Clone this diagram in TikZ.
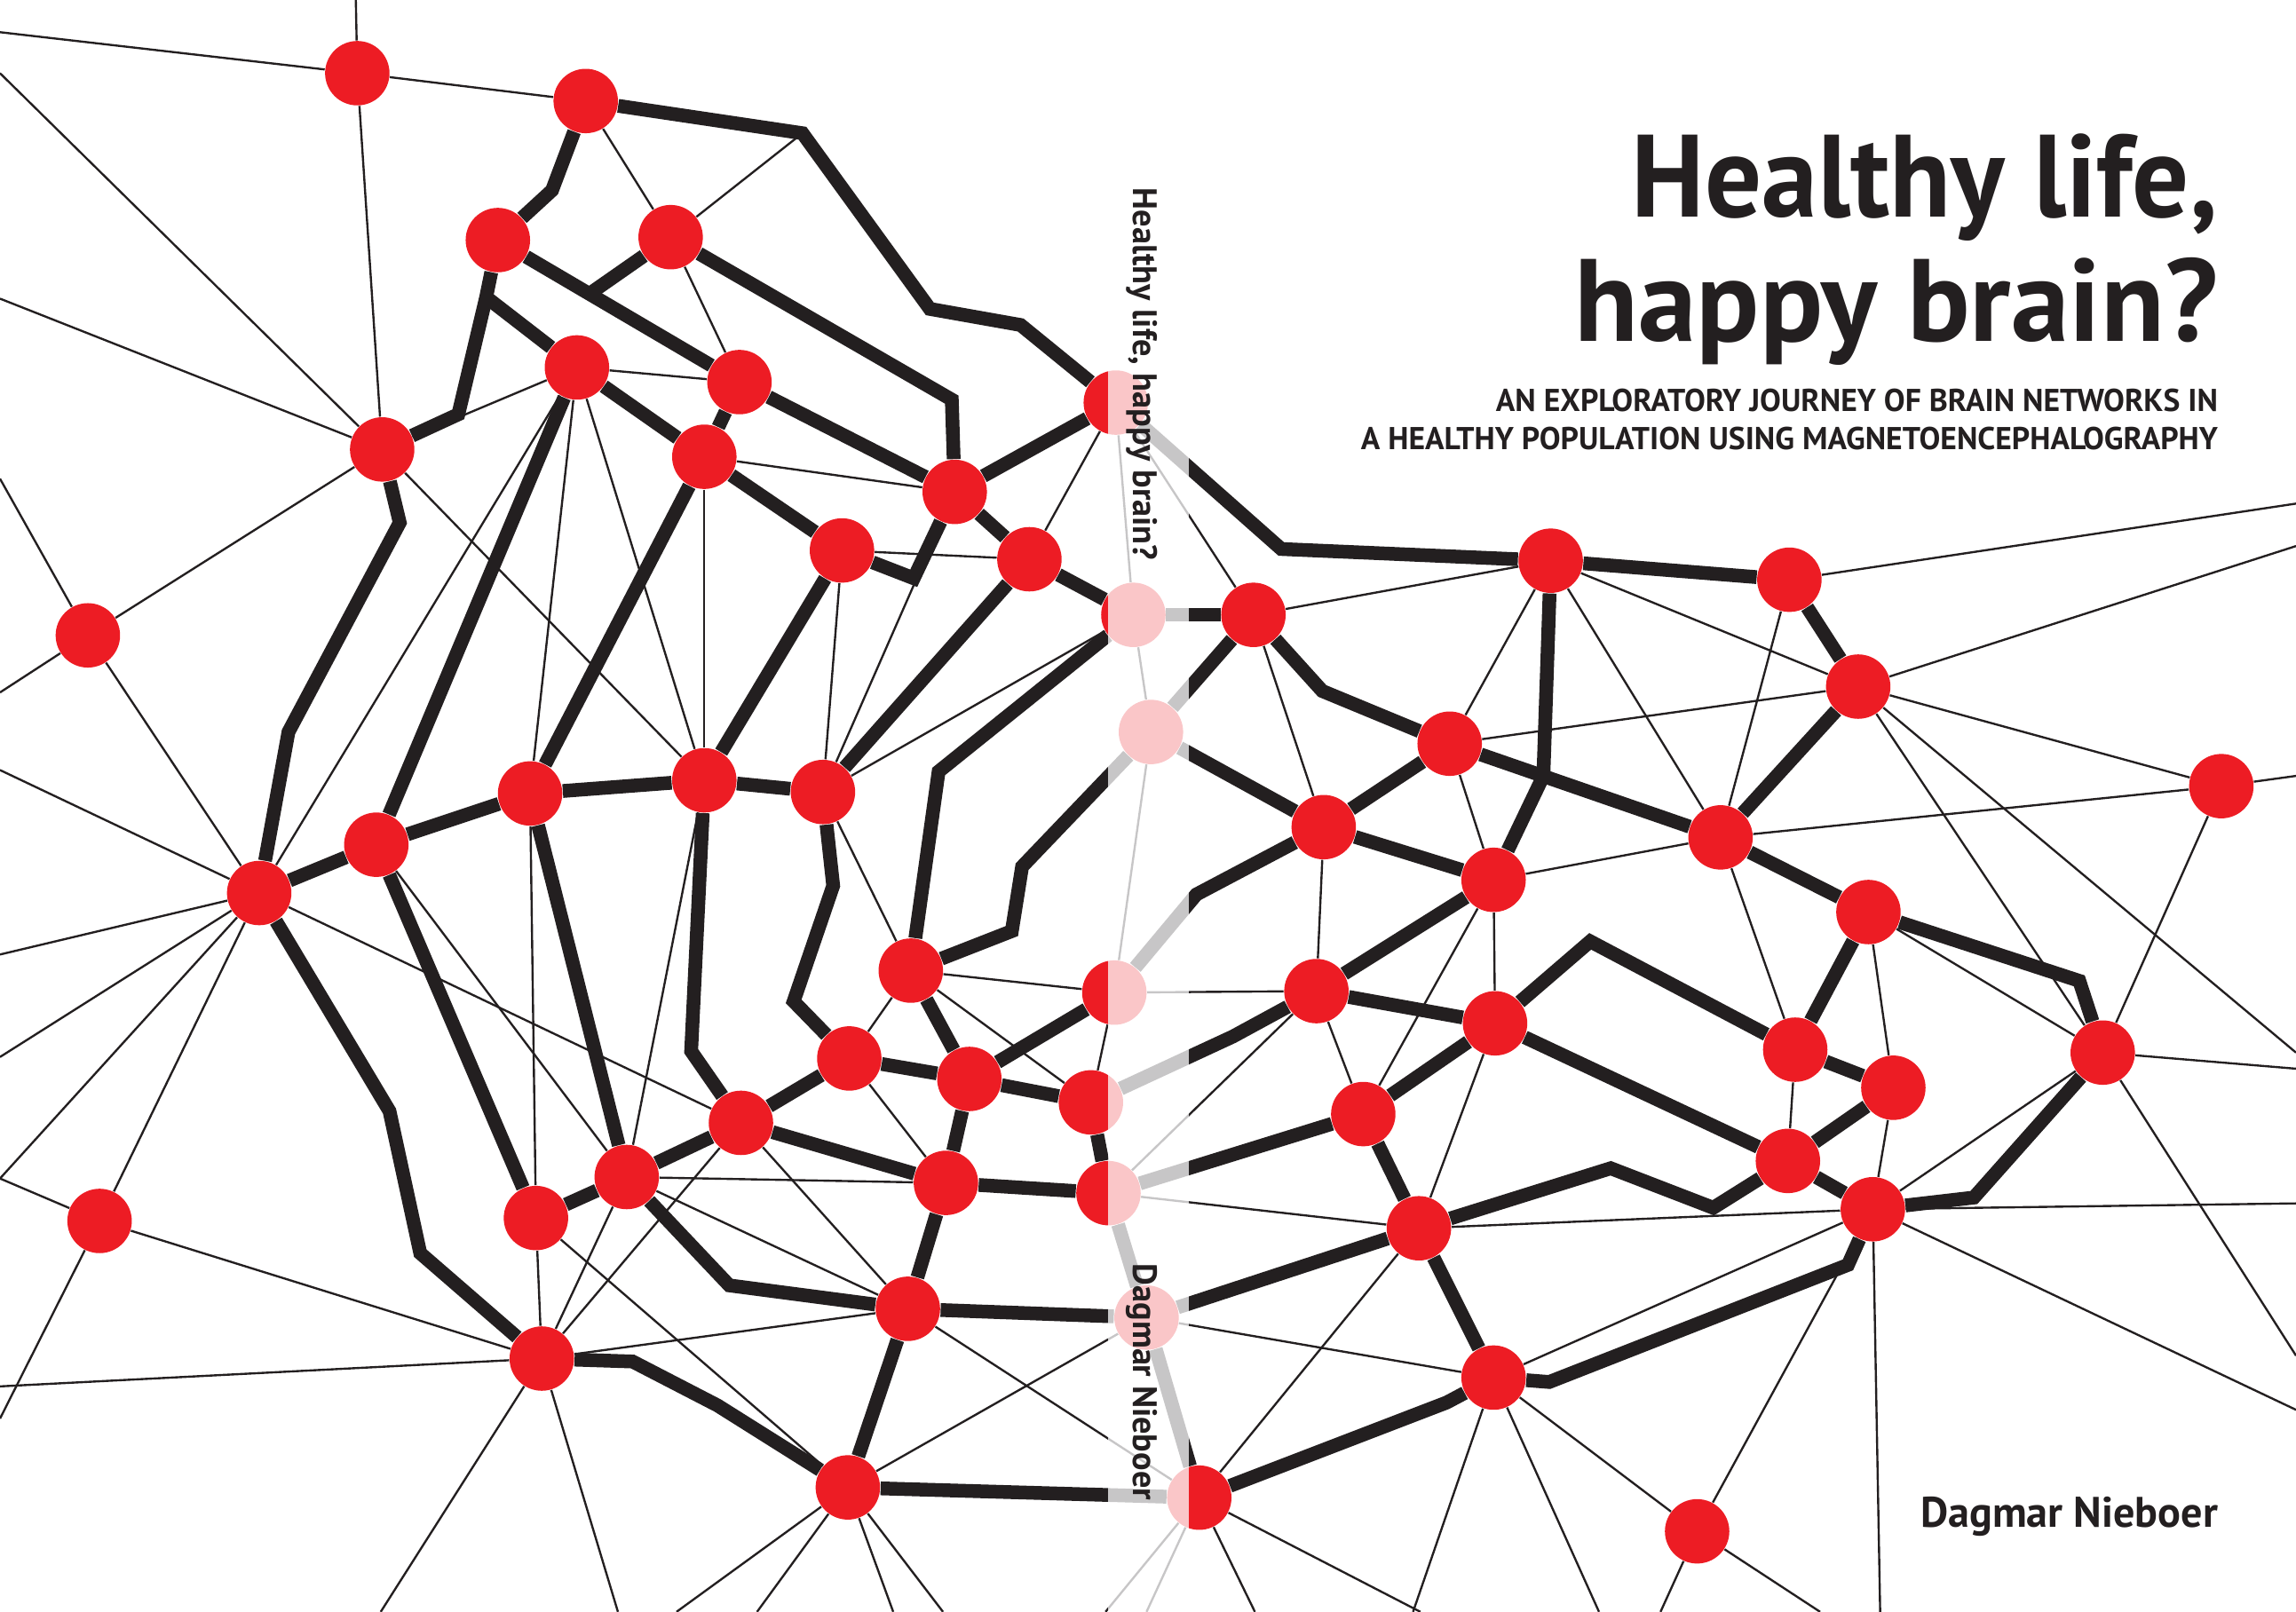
\documentclass[tikz,border=0pt]{standalone}
\usepackage{fontspec}
\setmainfont{PT Sans}
\definecolor{nred}{HTML}{ED1C24}
\definecolor{ndark}{HTML}{231F20}
\pgfdeclarelayer{edges}
\pgfdeclarelayer{veil}
\pgfsetlayers{edges,main,veil}
\tikzset{
  nd/.style={circle, fill=nred, minimum size=22pt, inner sep=0pt, draw=none},
  thn/.style={draw=ndark, line width=0.72pt},
  thk/.style={draw=ndark, line width=4.7pt, line join=miter},
  ttl/.style={font=\bfseries\fontsize{40}{40}\selectfont, text=ndark, inner sep=0pt},
  sub/.style={font=\bfseries\fontsize{10.8}{12}\selectfont, text=ndark, inner sep=0pt},
  spn/.style={font=\bfseries\fontsize{11.6}{12}\selectfont, text=ndark, inner sep=0pt, rotate=-90, anchor=base west},
}
\begin{document}
\begin{tikzpicture}[x=0.5pt,y=-0.5pt]
\useasboundingbox (0,0) rectangle (1568,1101);
\clip (0,0) rectangle (1568,1101);
% nodes
\foreach \n/\x/\y in {n1/244/50, n2/400/69, n3/340/164, n4/458/162, n5/394/251, n6/505/261,
  n7/481/312, n8/261/307, n9/60/434, n10/652/336, n11/575/376, n12/703/382, n13/762/275,
  n14/774/420, n15/856/420, n16/786/500, n17/362/542, n18/481/533, n19/562/541, n20/257/577,
  n21/177/610, n22/622/663, n23/761/678, n24/580/723, n25/662/737, n26/745/753, n27/506/767,
  n28/428/804, n29/366/832, n30/646/808, n31/757/815, n32/620/894, n33/783/900, n34/370/928,
  n35/579/1016, n36/819/1023, n37/68/834, n38/1059/383, n39/1222/396, n40/1269/469,
  n41/990/508, n42/904/565, n43/1020/601, n44/1175/572, n45/1517/537, n46/1276/623,
  n47/899/677, n48/1021/699, n49/1226/717, n50/1293/743, n51/1436/719, n52/931/761,
  n53/1221/793, n54/1279/826, n55/969/839, n56/1020/941, n57/1159/1046}
  {\node[nd] (\n) at (\x,\y) {};}
% bends
\foreach \n/\x/\y in {a1/548/91, a2/635/211, a3/697/222, a4/377/130, a5/332/203, a6/313/283,
  a7/405/199, a8/650/273, a9/624/395, a10/273/357, a11/197/500, a12/266/759, a13/287/856,
  a14/432/930, a15/490/960, a16/875/375, a17/903/472, a18/1054/530, a19/641/527,
  a20/698/592, a21/691/636, a22/569/605, a23/542/684, a24/472/718, a25/498/878,
  a26/817/611, a27/842/708, a28/1086/643, a29/1100/798, a30/1170/825, a31/988/958,
  a32/1058/944, a33/1262/864, a34/1348/818, a35/1420/670}
  {\coordinate (\n) at (\x,\y);}
% free ends at the border
\foreach \n/\x/\y in {b1/0/22, b2/243/0, b3/0/50, b4/0/204, b5/0/327, b6/0/473, b7/0/526,
  b8/0/652, b9/0/722, b10/0/805, b11/0/969, b12/0/947, b13/260/1101, b14/422/1101,
  b15/462/1101, b16/517/1101, b17/610/1101, b18/644/1101, b19/755/1101, b20/783/1101,
  b21/857/1101, b22/970/1101, b23/965/1101, b24/1092/1101, b25/1134/1101, b26/1243/1101,
  b27/1284/1101, b28/1568/963, b29/1568/822, b30/1568/926, b31/1568/730, b32/1568/719,
  b33/1568/373, b34/1568/344, b35/1568/530}
  {\coordinate (\n) at (\x,\y);}

\begin{pgfonlayer}{edges}
% thin connectors
\foreach \p/\q in {n1/b1, n1/b2, n1/n2, n1/n8, n2/n4, a1/n4, n4/n6, n5/n6, n5/n8, n5/n17,
  n5/n18, n5/n21, n7/n10, n7/n18, n8/b3, n8/b4, n8/n9, n8/n18, n9/b5, n9/b6, n9/n21,
  n10/n19, n11/n12, n11/n19, n12/n13, n13/n14, n13/n15, n14/n16, n14/n19, n15/n38,
  n15/n42, n16/n23, n17/n29, n18/n28, n19/n22, n20/n28, n21/n37, n21/n27, n21/b7,
  n21/b8, n21/b9, n21/b10, n22/n23, n22/n24, n22/n26, n23/n26, n23/n47, n24/n30,
  n27/n32, n27/n34, n28/n30, n28/n32, n28/n34, n29/n34, n29/n35, n31/n47, n31/n55,
  n32/n34, n32/n36, n33/n35, n33/n56, n34/n37, n34/b12, n34/b13, n34/b14, n35/b15,
  n35/b16, n35/b17, n35/b18, n36/n55, n36/b19, n36/b20, n36/b21, n36/b22, n38/n41,
  n38/n40, n38/n44, n39/n44, n39/b34, n40/n41, n40/n45, n40/n51, n40/b32, n40/b33,
  n41/n43, n42/n47, n43/n44, n43/n48, n43/n52, n44/n45, n44/n49, n45/n51, n45/b35,
  n46/n50, n46/n51, n47/n52, n48/n55, n49/n53, n50/n54, n51/n54, n51/b30, n51/b31,
  n54/n55, n54/n56, n54/n57, n54/b27, n54/b28, n54/b29, n56/n57, n56/b23, n56/b24,
  n57/b25, n57/b26, n37/b10, n37/b11}
  {\draw[thn] (\p) -- (\q);}
% thick connectors
\foreach \p/\q in {n3/n6, n4/a7, a5/n5, n5/n7, n5/n20, n6/n7, n6/n10, n7/n11, n7/n17,
  n10/n13, n10/n12, n12/n14, n12/n19, n21/n20, n35/n36, n35/n32, n17/n18, n17/n20,
  n17/n28, n18/n19, n18/n11, n20/n29, n28/n29, n28/n27, n27/n24, n27/n30, n24/n25,
  n25/n22, n25/n26, n25/n23, n25/n30, n30/n31, n30/n32, n32/n33, n14/n15, n16/n15,
  n16/n42, n38/n39, n39/n40, n40/n44, n41/n44, n41/n42, n42/n43, n43/n47, n47/n48,
  n26/n31, n31/n33, n31/n52, n33/n36, n33/n55, n52/n48, n48/n53, n52/n55, n55/n56,
  n53/n54, n53/n50, n49/n50, n44/n46, n46/n49}
  {\draw[thk] (\p) -- (\q);}
\draw[thk] (n2) -- (a1) -- (a2) -- (a3) -- (n13);
\draw[thk] (n2) -- (a4) -- (n3);
\draw[thk] (n3) -- (a5) -- (a6) -- (n8);
\draw[thk] (n4) -- (a8) -- (n10);
\draw[thk] (n11) -- (a9) -- (n10);
\draw[thk] (n8) -- (a10) -- (a11) -- (n21);
\draw[thk] (n21) -- (a12) -- (a13) -- (n34);
\draw[thk] (n34) -- (a14) -- (a15) -- (n35);
\draw[thk] (n18) -- (a24) -- (n27);
\draw[thk] (n19) -- (a22) -- (a23) -- (n24);
\draw[thk] (n28) -- (a25) -- (n32);
\draw[thk] (n14) -- (a19) -- (n22);
\draw[thk] (n16) -- (a20) -- (a21) -- (n22);
\draw[thk] (n13) -- (a16) -- (n38);
\draw[thk] (n15) -- (a17) -- (n41);
\draw[thk] (n38) -- (a18) -- (n43);
\draw[thk] (n42) -- (a26) -- (n23);
\draw[thk] (n47) -- (a27) -- (n26);
\draw[thk] (n48) -- (a28) -- (n49);
\draw[thk] (n55) -- (a29) -- (a30) -- (n53);
\draw[thk] (n36) -- (a31) -- (n56);
\draw[thk] (n56) -- (a32) -- (a33) -- (n54);
\draw[thk] (n54) -- (a34) -- (n51);
\draw[thk] (n46) -- (a35) -- (n51);
\end{pgfonlayer}

% titles
\node[ttl, anchor=base east] (t1) at (1515,148) {\scalebox{0.96}[1]{Healthy life,}};
\node[ttl, anchor=base east] (t2) at (1515,233) {happy brain?};
\node[sub, anchor=base east] (t3) at (1515,281) {AN EXPLORATORY JOURNEY OF BRAIN NETWORKS IN};
\node[sub, anchor=base east] (t4) at (1515,307) {A HEALTHY POPULATION USING MAGNETOENCEPHALOGRAPHY};
\node[anchor=base east, inner sep=0pt, text=ndark, font=\bfseries\fontsize{14.6}{16}\selectfont] (t5) at (1515,1043) {Dagmar Nieboer};

% spine veil and spine texts
\begin{pgfonlayer}{veil}
\fill[white, fill opacity=0.75] (757,0) rectangle (812,1101);
\node[spn] (s1) at (774,128) {Healthy life, happy brain?};
\node[spn] (s2) at (774,863) {Dagmar Nieboer};
\end{pgfonlayer}
\end{tikzpicture}
\end{document}
